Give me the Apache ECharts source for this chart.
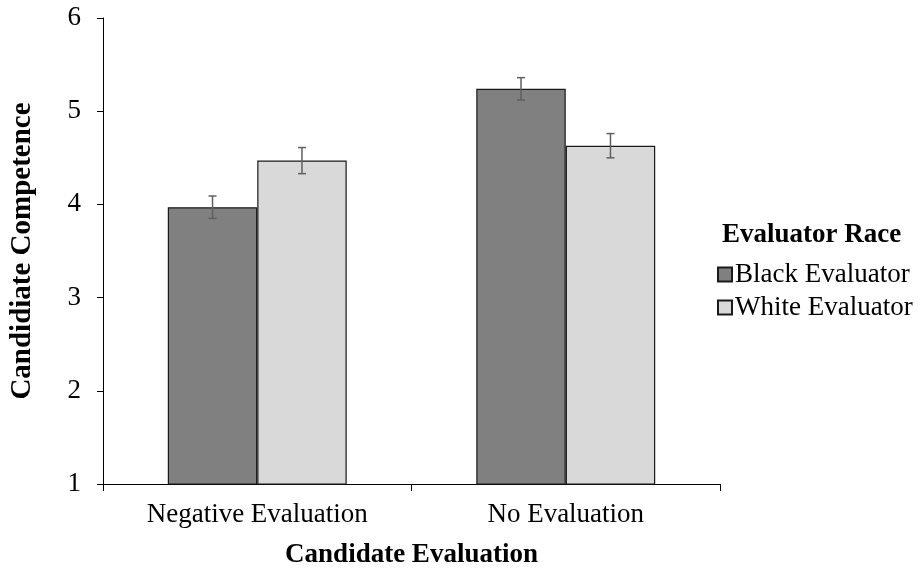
<!DOCTYPE html>
<html>
<head>
<meta charset="utf-8">
<script src="https://cdn.jsdelivr.net/npm/echarts@6/dist/echarts.min.js"></script>
<style>
  html, body { margin: 0; padding: 0; background: #fff; }
  #chart { width: 921px; height: 574px; }
</style>
</head>
<body>
<div id="chart"></div>
<script>
// Mean candidate competence ratings by candidate evaluation and evaluator race
const categories = ['Negative Evaluation', 'No Evaluation'];
const seriesNames = ['Black Evaluator', 'White Evaluator'];
const blackMeans = [3.97, 5.24];
const whiteMeans = [4.47, 4.63];
const blackErrors = [0.12, 0.12];
const whiteErrors = [0.14, 0.13];
const yTicks = [1, 2, 3, 4, 5, 6];

const FONT = '"Liberation Serif", "Times New Roman", serif';
const FS = 27;
const BAR_RATIO = 0.29;

// Error bar renderer: offset = -1 for left bar of the pair, +1 for right bar
function errorBarRenderer(offset) {
  return function (params, api) {
    const cat = api.value(0);
    const mean = api.value(1);
    const err = api.value(2);
    const bandW = api.size([1, 0])[0];
    const barW = bandW * BAR_RATIO;
    const center = api.coord([cat, mean]);
    const x = center[0] + offset * barW / 2;
    const top = api.coord([cat, mean + err])[1];
    const bottom = api.coord([cat, mean - err])[1];
    const cap = 4;
    const style = { stroke: '#606060', lineWidth: 1.5 };
    return {
      type: 'group',
      children: [
        { type: 'line', shape: { x1: x, y1: top, x2: x, y2: bottom }, style: style },
        { type: 'line', shape: { x1: x - cap, y1: top, x2: x + cap, y2: top }, style: style },
        { type: 'line', shape: { x1: x - cap, y1: bottom, x2: x + cap, y2: bottom }, style: style }
      ]
    };
  };
}

const chart = echarts.init(document.getElementById('chart'), null, { renderer: 'canvas' });

chart.setOption({
  animation: false,
  backgroundColor: '#ffffff',
  textStyle: { fontFamily: FONT },
  title: {
    text: 'Evaluator Race',
    left: 722,
    top: 222,
    padding: 0,
    textStyle: { fontFamily: FONT, fontSize: FS, fontWeight: 'bold', color: '#000' }
  },
  legend: {
    orient: 'vertical',
    left: 717,
    top: 261,
    padding: 0,
    itemWidth: 14,
    itemHeight: 14,
    itemGap: 6,
    icon: 'rect',
    data: seriesNames,
    textStyle: { fontFamily: FONT, fontSize: FS, color: '#000', padding: [0, 0, 0, -2] }
  },
  grid: { left: 103, right: 201, top: 18, bottom: 84, containLabel: false },
  xAxis: {
    type: 'category',
    data: categories,
    name: 'Candidate Evaluation',
    nameLocation: 'middle',
    nameGap: 58,
    nameTextStyle: { fontFamily: FONT, fontSize: FS, fontWeight: 'bold', color: '#000' },
    axisLine: { lineStyle: { color: '#000', width: 1 } },
    axisTick: { show: true, length: 7, alignWithLabel: false, lineStyle: { color: '#000' } },
    axisLabel: { fontFamily: FONT, fontSize: FS, color: '#000', margin: 17 }
  },
  yAxis: {
    type: 'value',
    min: yTicks[0],
    max: yTicks[yTicks.length - 1],
    interval: 1,
    name: 'Candidiate Competence',
    nameLocation: 'middle',
    nameGap: 66,
    nameRotate: 90,
    nameTextStyle: { fontFamily: FONT, fontSize: 29, fontWeight: 'bold', color: '#000' },
    axisLine: { show: true, lineStyle: { color: '#000', width: 1 } },
    axisTick: { show: true, length: 6, lineStyle: { color: '#000' } },
    axisLabel: { fontFamily: FONT, fontSize: FS, color: '#000', margin: 22 },
    splitLine: { show: false }
  },
  series: [
    {
      name: seriesNames[0],
      type: 'bar',
      data: blackMeans,
      barWidth: (BAR_RATIO * 100) + '%',
      barGap: '0%',
      itemStyle: { color: '#808080', borderColor: '#1a1a1a', borderWidth: 1.2 }
    },
    {
      name: seriesNames[1],
      type: 'bar',
      data: whiteMeans,
      barWidth: (BAR_RATIO * 100) + '%',
      barGap: '0%',
      itemStyle: { color: '#d9d9d9', borderColor: '#1a1a1a', borderWidth: 1.2 }
    },
    {
      type: 'custom',
      name: 'blackErr',
      renderItem: errorBarRenderer(-1),
      data: blackMeans.map((m, i) => [i, m, blackErrors[i]]),
      encode: { x: 0, y: 1 },
      z: 10,
      silent: true
    },
    {
      type: 'custom',
      name: 'whiteErr',
      renderItem: errorBarRenderer(1),
      data: whiteMeans.map((m, i) => [i, m, whiteErrors[i]]),
      encode: { x: 0, y: 1 },
      z: 10,
      silent: true
    }
  ]
});
</script>
</body>
</html>
